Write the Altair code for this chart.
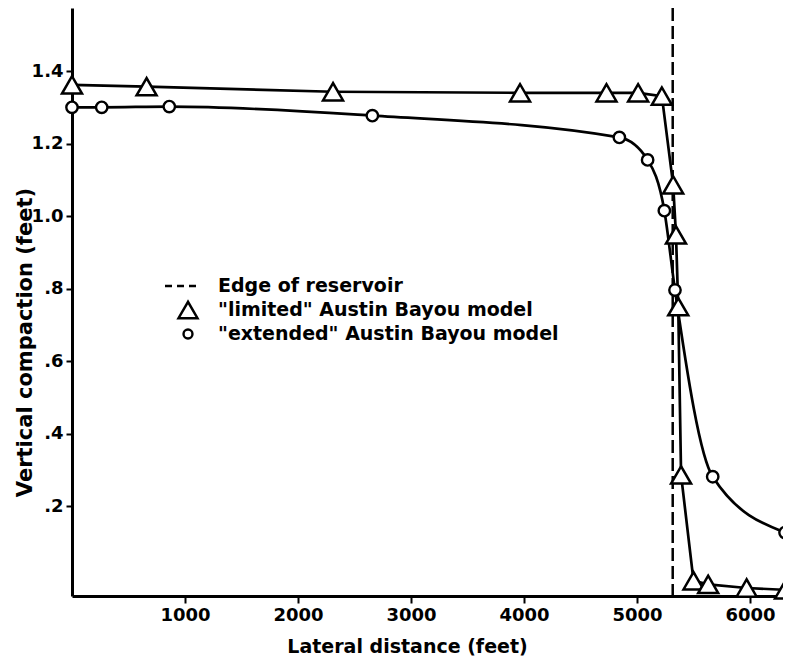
import altair as alt
import pandas as pd

# ---- data ----
dist_limited = [0, 660, 2310, 3965, 4730, 5010, 5220, 5320, 5345, 5365, 5390, 5500, 5630, 5970, 6310]
comp_limited = [1.363, 1.358, 1.344, 1.341, 1.341, 1.341, 1.332, 1.087, 0.949, 0.751, 0.287, -0.005, -0.015, -0.025, -0.030]

dist_extended = [0, 263, 861, 2658, 4844, 5094, 5242, 5336, 5670, 6310]
comp_extended = [1.301, 1.301, 1.303, 1.278, 1.218, 1.156, 1.016, 0.797, 0.282, 0.128]

reservoir_edge = [5316]

x_ticks = [1000, 2000, 3000, 4000, 5000, 6000]
y_ticks = [0.2, 0.4, 0.6, 0.8, 1.0, 1.2, 1.4]

legend_labels = [
    "Edge of reservoir",
    "\"limited\" Austin Bayou model",
    "\"extended\" Austin Bayou model",
]

# ---- layout ----
FONT = "DejaVu Sans"
W, H = 711, 588

xs = alt.Scale(domain=[0, 6292], nice=False, zero=False)
ys = alt.Scale(domain=[-0.047, 1.575], nice=False, zero=False)

x_axis = alt.Axis(
    values=x_ticks, format="d", grid=False,
    domainColor="black", domainWidth=3,
    tickColor="black", tickWidth=2, tickSize=7,
    labelFont=FONT, labelFontSize=18, labelFontWeight="bold", labelColor="black",
    labelPadding=3,
    title="Lateral distance (feet)", titleFont=FONT, titleFontSize=19,
    titleFontWeight="bold", titleColor="black",
    titleX=335, titleY=56, titleAlign="center", titleBaseline="alphabetic",
)
y_axis = alt.Axis(
    values=y_ticks, grid=False,
    labelExpr="datum.value < 1 ? '.' + round(datum.value * 10) : format(datum.value, '.1f')",
    domainColor="black", domainWidth=3,
    tickColor="black", tickWidth=2, tickSize=6,
    labelFont=FONT, labelFontSize=18, labelFontWeight="bold", labelColor="black",
    labelPadding=3,
    title="Vertical compaction (feet)", titleFont=FONT, titleFontSize=21,
    titleFontWeight="bold", titleColor="black",
    titleX=-47, titleY=334, titleAlign="center", titleBaseline="middle", titleAngle=-90,
)

lim = pd.DataFrame({"d": dist_limited, "c": comp_limited})
ext = pd.DataFrame({"d": dist_extended, "c": comp_extended})
edge = pd.DataFrame({"d": reservoir_edge})

X = alt.X("d:Q", scale=xs, axis=x_axis)
Y = alt.Y("c:Q", scale=ys, axis=y_axis)

edge_rule = alt.Chart(edge).mark_rule(
    color="black", strokeWidth=2.5, strokeDash=[13, 5]
).encode(x=X, y=alt.value(0), y2=alt.value(H))

lim_line = alt.Chart(lim).mark_line(color="black", strokeWidth=2.7).encode(x=X, y=Y)
ext_line = alt.Chart(ext).mark_line(
    color="black", strokeWidth=2.7, interpolate="monotone"
).encode(x=X, y=Y)

lim_pts = alt.Chart(lim).mark_point(
    shape="triangle-up", size=400, filled=True, fill="white", stroke="black",
    strokeWidth=2.5, opacity=1,
).encode(x=X, y=Y)
ext_pts = alt.Chart(ext).mark_point(
    shape="circle", size=130, filled=True, fill="white", stroke="black",
    strokeWidth=2.4, opacity=1,
).encode(x=X, y=Y)

# ---- legend (drawn inside plot) ----
one = pd.DataFrame({"k": [0]})
ROW0, STEP = 278, 24
leg_dash = alt.Chart(one).mark_rule(
    color="black", strokeWidth=2.5, strokeDash=[7, 5]
).encode(x=alt.value(93), x2=alt.value(125), y=alt.value(ROW0))
leg_tri = alt.Chart(one).mark_point(
    shape="triangle-up", size=360, filled=True, fill="white", stroke="black",
    strokeWidth=2.5, opacity=1,
).encode(x=alt.value(116), y=alt.value(ROW0 + STEP))
leg_circ = alt.Chart(one).mark_point(
    shape="circle", size=80, filled=True, fill="white", stroke="black",
    strokeWidth=2.4, opacity=1,
).encode(x=alt.value(116), y=alt.value(ROW0 + 2 * STEP))

leg_texts = []
for i, lab in enumerate(legend_labels):
    leg_texts.append(
        alt.Chart(one).mark_text(
            align="left", baseline="middle", font=FONT, fontSize=19,
            fontWeight="bold", color="black",
        ).encode(x=alt.value(146), y=alt.value(ROW0 + STEP * i), text=alt.value(lab))
    )

chart = alt.layer(
    edge_rule, lim_line, ext_line, ext_pts, lim_pts,
    leg_dash, leg_tri, leg_circ, *leg_texts,
).properties(
    width=W, height=H,
    autosize=alt.AutoSizeParams(type="none"),
    padding={"left": 64, "top": 0, "right": 0, "bottom": 62},
    background="white",
).configure_view(stroke=None)

chart.save("out.html", embed_options={"renderer": "svg", "actions": False})
